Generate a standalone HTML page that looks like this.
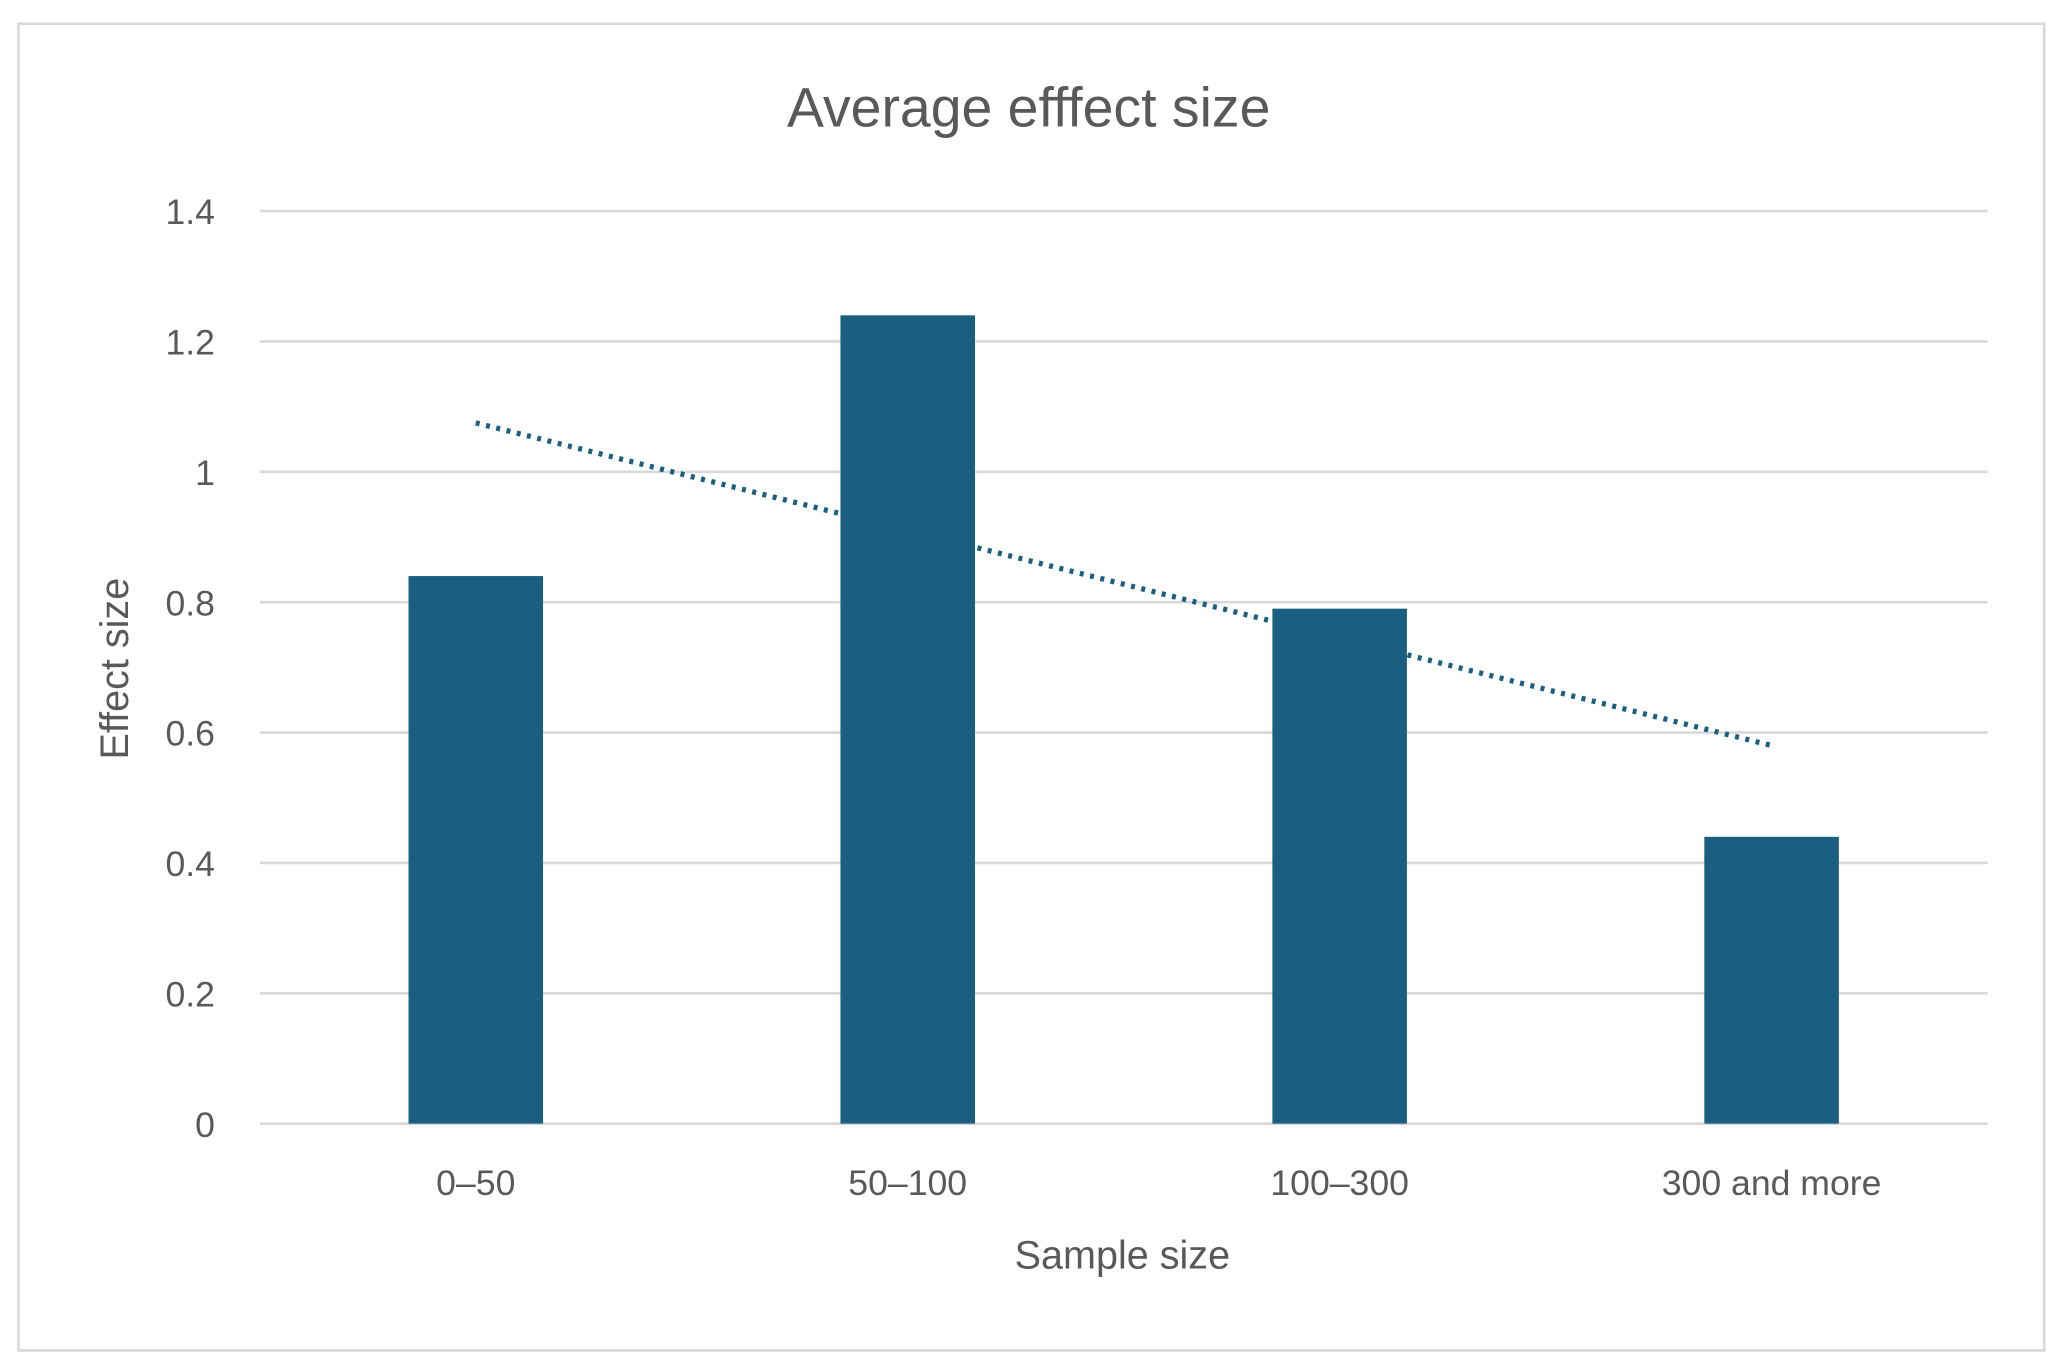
<!DOCTYPE html>
<html><head><meta charset="utf-8"><style>
html,body{margin:0;padding:0;background:#fff}
svg{display:block}
text{font-family:"Liberation Sans",sans-serif;fill:#595959}
</style></head><body>
<svg id="chart" width="2068" height="1370" viewBox="0 0 1568 1038.8" preserveAspectRatio="none" xmlns="http://www.w3.org/2000/svg">
<rect x="14" y="18" width="1536" height="1006" fill="#fff" stroke="#d9d9d9" stroke-width="2"/>
<text x="780" y="96" font-size="42" text-anchor="middle">Average efffect size</text>
<g id="grid"></g>
<g id="trend"></g>
<g id="bars"></g>
<g id="xlabels"></g>
<text x="851" y="962" font-size="30" text-anchor="middle">Sample size</text>
<text transform="translate(97,507) rotate(-90)" font-size="30" text-anchor="middle">Effect size</text>
</svg>
<script>
const categories = ["0–50","50–100","100–300","300 and more"];
const values = [0.84, 1.24, 0.79, 0.44];
const yTicks = [0, 0.2, 0.4, 0.6, 0.8, 1, 1.2, 1.4];
const yTickLabels = ["0","0.2","0.4","0.6","0.8","1","1.2","1.4"];
const NS = "http://www.w3.org/2000/svg";
const L = 197, R = 1507, T = 160, B = 852, yMax = 1.4;
const band = (R - L) / categories.length;
const xC = i => L + band * (i + 0.5);
const yS = v => B - v / yMax * (B - T);
const barW = 102;
function mk(tag, attrs, parent) {
  const e = document.createElementNS(NS, tag);
  for (const k in attrs) e.setAttribute(k, attrs[k]);
  parent.appendChild(e);
  return e;
}
const grid = document.getElementById('grid');
yTicks.forEach((t, i) => {
  const ln = mk('line', {x1: L, x2: R, y1: yS(t), y2: yS(t), stroke: '#d9d9d9', 'stroke-width': 2}, grid);
  
  
  const tx = mk('text', {x: 163, y: yS(t) + 10, 'font-size': 27, 'text-anchor': 'end'}, grid);
  tx.textContent = yTickLabels[i];
  
  
});
// linear trendline (least squares)
const n = values.length;
const xm = (n + 1) / 2;
const ym = values.reduce((a, b) => a + b, 0) / n;
let num = 0, den = 0;
values.forEach((v, i) => { num += (i + 1 - xm) * (v - ym); den += (i + 1 - xm) ** 2; });
const slope = num / den, icpt = ym - slope * xm;
const tl = mk('line', {x1: xC(0), y1: yS(icpt + slope), x2: xC(n - 1), y2: yS(icpt + slope * n),
  stroke: '#1a5e80', 'stroke-width': 4, 'stroke-dasharray': '3 5'}, document.getElementById('trend'));


const bars = document.getElementById('bars');
const xl = document.getElementById('xlabels');
values.forEach((v, i) => {
  const r = mk('rect', {x: xC(i) - barW / 2, y: yS(v), width: barW, height: B - yS(v), fill: '#1a5e80'}, bars);
  
  
  const tx = mk('text', {x: xC(i), y: 906, 'font-size': 27, 'text-anchor': 'middle'}, xl);
  tx.textContent = categories[i];
  
  
});
</script>
</body></html>
